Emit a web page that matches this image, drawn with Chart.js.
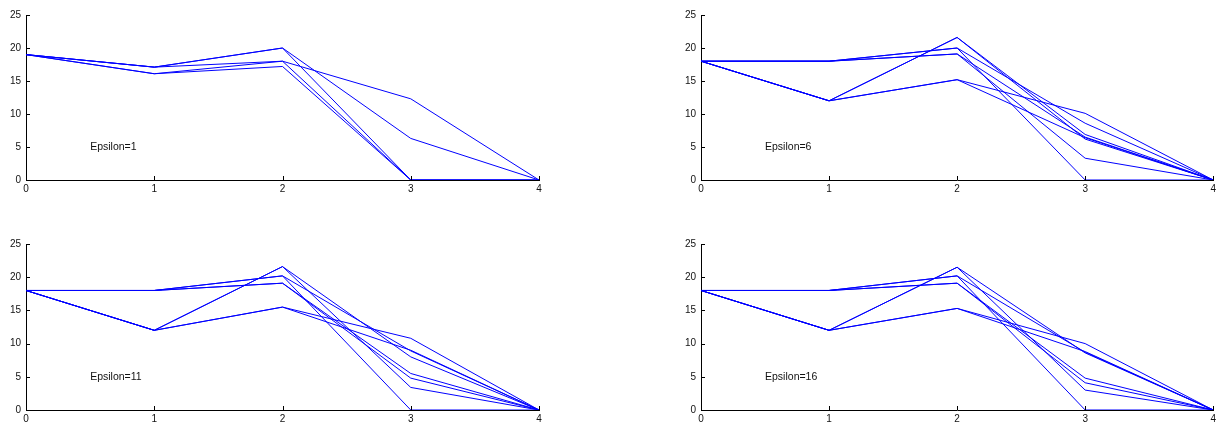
<!DOCTYPE html>
<html>
<head>
<meta charset="utf-8">
<script src="https://cdn.jsdelivr.net/npm/chart.js@4/dist/chart.umd.min.js"></script>
<style>
  html, body { margin: 0; padding: 0; background: #fff; }
  body { width: 1219px; height: 426px; position: relative; overflow: hidden; }
  canvas { position: absolute; }
</style>
</head>
<body>
<canvas id="c1" width="560" height="200" style="left:0;top:0"></canvas>
<canvas id="c2" width="544" height="200" style="left:675px;top:0"></canvas>
<canvas id="c3" width="560" height="197" style="left:0;top:229px"></canvas>
<canvas id="c4" width="544" height="197" style="left:675px;top:229px"></canvas>
<script>
const steps = [0, 1, 2, 3, 4]
const xTicks = [0, 1, 2, 3, 4]
const yTicks = [0, 5, 10, 15, 20, 25]

// each row is one run, values at steps 0..4
const eps1 = [
  [19, 17.1, 20, 6.3, 0],
  [19, 17.1, 20, 0, 0],
  [19, 16.1, 18, 12.3, 0],
  [19, 17.1, 18, 0, 0],
  [19, 16.1, 17.2, 0, 0],
]
const eps6 = [
  [18, 18, 20, 8.6, 0],
  [18, 18, 20, 0, 0],
  [18, 18, 19.1, 6.5, 0],
  [18, 18, 19.1, 3.3, 0],
  [18, 12, 21.6, 6.9, 0],
  [18, 12, 21.6, 6.2, 0],
  [18, 12, 15.2, 10.1, 0],
  [18, 12, 15.2, 6.4, 0],
]
const eps11 = [
  [18, 18, 20.2, 8.9, 0],
  [18, 18, 20.2, 0, 0],
  [18, 18, 19.1, 5.5, 0],
  [18, 18, 19.1, 4.8, 0],
  [18, 12, 21.6, 8.0, 0],
  [18, 12, 21.6, 3.4, 0],
  [18, 12, 15.5, 10.8, 0],
  [18, 12, 15.5, 9.0, 0],
]
const eps16 = [
  [18, 18, 20.2, 8.7, 0],
  [18, 18, 20.2, 0, 0],
  [18, 18, 19.1, 4.8, 0],
  [18, 18, 19.1, 4.1, 0],
  [18, 12, 21.5, 8.6, 0],
  [18, 12, 21.5, 3.0, 0],
  [18, 12, 15.3, 10.0, 0],
  [18, 12, 15.3, 8.8, 0],
]
const labels = ['Epsilon=1', 'Epsilon=6', 'Epsilon=11', 'Epsilon=16']
const labelPos = [0.5, 5]

const fontFamily = '"Liberation Sans", Arial, sans-serif'

// matlab style: ticks pointing inward + text annotation
const matlabPlugin = {
  id: 'matlab',
  afterDraw(chart, args, opts) {
    const ctx = chart.ctx
    const xs = chart.scales.x
    const ys = chart.scales.y
    const area = chart.chartArea
    ctx.save()
    ctx.strokeStyle = '#000'
    ctx.lineWidth = 1
    ctx.beginPath()
    xTicks.forEach((v) => {
      if (v === 0) return
      const px = Math.round(xs.getPixelForValue(v)) + 0.5
      ctx.moveTo(px, area.bottom)
      ctx.lineTo(px, area.bottom - 4)
    })
    yTicks.forEach((v) => {
      if (v === 0) return
      const py = Math.round(ys.getPixelForValue(v)) + 0.5
      ctx.moveTo(area.left, py)
      ctx.lineTo(area.left + 4, py)
    })
    ctx.stroke()
    ctx.fillStyle = '#111'
    ctx.font = '10.5px ' + fontFamily
    ctx.textAlign = 'left'
    ctx.textBaseline = 'middle'
    ctx.fillText(opts.text, xs.getPixelForValue(labelPos[0]), ys.getPixelForValue(labelPos[1]))
    ctx.restore()
  },
}

function makeChart(id, runs, text, padRight, xHeight) {
  const datasets = runs.map((r) => ({
    data: r.map((v, i) => ({ x: steps[i], y: v })),
    borderColor: '#0000ff',
    borderWidth: 1,
    pointRadius: 0,
    fill: false,
    tension: 0,
  }))
  return new Chart(document.getElementById(id), {
    type: 'line',
    data: { datasets },
    options: {
      responsive: false,
      animation: false,
      devicePixelRatio: 1,
      layout: { padding: { top: 15, right: padRight, left: 0, bottom: 0 } },
      plugins: { legend: { display: false }, tooltip: { enabled: false }, matlab: { text } },
      scales: {
        x: {
          type: 'linear',
          min: 0,
          max: 4,
          afterFit: (s) => { s.height = xHeight },
          afterBuildTicks: (s) => { s.ticks = xTicks.map((v) => ({ value: v })) },
          grid: { display: true, drawOnChartArea: false, drawTicks: false },
          border: { color: '#000', width: 1 },
          ticks: { color: '#111', font: { size: 10, family: fontFamily }, padding: 3, maxRotation: 0 },
        },
        y: {
          type: 'linear',
          min: 0,
          max: 25,
          afterFit: (s) => { s.width = 26 },
          afterBuildTicks: (s) => { s.ticks = yTicks.map((v) => ({ value: v })) },
          grid: { display: true, drawOnChartArea: false, drawTicks: false },
          border: { color: '#000', width: 1 },
          ticks: { color: '#111', font: { size: 10, family: fontFamily }, padding: 5 },
        },
      },
    },
    plugins: [matlabPlugin],
  })
}

makeChart('c1', eps1, labels[0], 21, 20)
makeChart('c2', eps6, labels[1], 4, 20)
makeChart('c3', eps11, labels[2], 21, 16)
makeChart('c4', eps16, labels[3], 4, 16)
</script>
</body>
</html>
